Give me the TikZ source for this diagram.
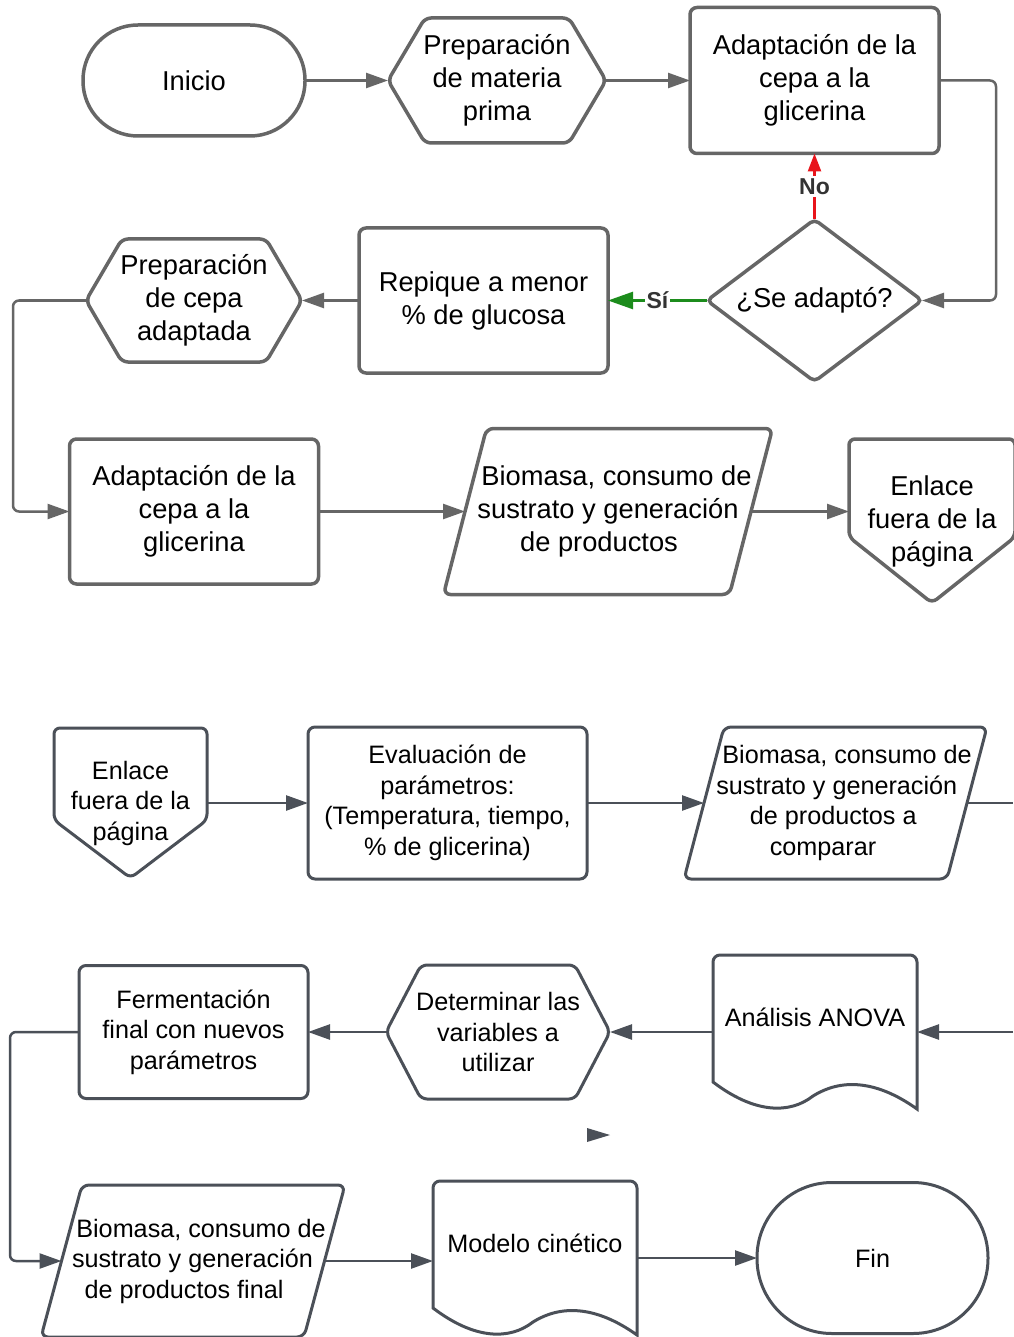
\documentclass[tikz,border=0pt]{standalone}
\usepackage{fontspec}
\setmainfont{Liberation Sans}
\usepackage{xcolor}
\usepackage{tikz}
\usetikzlibrary{arrows.meta,positioning,shapes.geometric}

\definecolor{lineA}{HTML}{666666}
\definecolor{lineB}{HTML}{4B5058}
\definecolor{noRed}{HTML}{E8141B}
\definecolor{siGreen}{HTML}{1C8C1C}
\definecolor{tagGray}{HTML}{333333}

\newcommand{\bigtext}{\fontsize{27.3}{33}\selectfont}
\newcommand{\smalltext}{\fontsize{25.2}{30.5}\selectfont}
% moves one line of a slanted box sideways without changing its width
\newcommand{\slantline}[2]{\hspace*{#1}#2\hspace*{-#1}}

% outlines for the flowchart shapes tikz has no node shape for
\newcommand{\hexoutline}[3]{\draw[#3] (#1.west) -- ([xshift=#2]#1.north west) -- ([xshift=-#2]#1.north east) -- (#1.east) -- ([xshift=-#2]#1.south east) -- ([xshift=#2]#1.south west) -- cycle;}
\newcommand{\paraoutline}[3]{\draw[#3] ([xshift=-#2]#1.south west) -- ([xshift=#2]#1.north west) -- ([xshift=#2]#1.north east) -- ([xshift=-#2]#1.south east) -- cycle;}
\newcommand{\pageoutline}[3]{\draw[#3] (#1.north west) -- (#1.north east) -- ([yshift=#2]#1.south east) -- (#1.south) -- ([yshift=#2]#1.south west) -- cycle;}
\newcommand{\docoutline}[2]{\draw[#2] ([yshift=27pt]#1.south west) -- (#1.north west) -- (#1.north east) [sharp corners] -- (#1.south east)
  .. controls ([xshift=-42pt,yshift=30pt]#1.south east) and ([xshift=25pt,yshift=30pt]#1.south) .. ([xshift=-2pt,yshift=13pt]#1.south)
  .. controls ([xshift=-25pt,yshift=-5pt]#1.south) and ([xshift=42pt,yshift=-5pt]#1.south west) .. ([yshift=27pt]#1.south west) -- cycle;}

\begin{document}
\begin{tikzpicture}[
    x=1pt, y=-1pt,
    every node/.style={align=center, inner sep=0pt, outer sep=0pt},
    textA/.style={font=\bigtext},
    textB/.style={font=\smalltext},
    outA/.style={draw=lineA, line width=3.5pt},
    outB/.style={draw=lineB, line width=3pt},
    process/.style={rectangle, rounded corners=7pt},
    terminal/.style={rectangle, rounded corners=#1},
    decision/.style={diamond, aspect=1.33, rounded corners=5pt},
    holder/.style={rectangle},
    doctext/.style={text height=18pt, text depth=30pt},
    tag/.style={fill=white, text=tagGray, font=\bfseries\fontsize{23}{26}\selectfont, inner sep=2pt},
    arrA/.style={-{Triangle[length=22pt,width=15pt]}, lineA, line width=2.5pt},
    arrB/.style={-{Triangle[length=22pt,width=15pt]}, lineB, line width=2.5pt},
    arrNo/.style={-{Triangle[length=18pt,width=13pt]}, noRed, line width=2.5pt},
    arrSi/.style={-{Triangle[length=25pt,width=17pt]}, siGreen, line width=2.5pt}
]
\useasboundingbox (0,0) rectangle (1013,1337);

% first part
\node[terminal=55pt, outA, textA, minimum width=222pt, minimum height=111pt] (inicio) at (194,80.5) {Inicio};
\node[holder, textA, minimum width=218pt, minimum height=125pt, right=83pt of inicio] (materia) {Preparación\\de materia\\prima};
\node[process, outA, textA, minimum width=249pt, minimum height=146pt, right=84pt of materia] (adaptacion) {Adaptación de la\\cepa a la\\glicerina};
\node[decision, outA, textA, minimum width=215pt, minimum height=162pt, below=66pt of adaptacion] (adapto) {¿Se adaptó?};
\node[process, outA, textA, minimum width=249pt, minimum height=145pt, left=99pt of adapto] (repique) {Repique a menor\\\% de glucosa};
\node[holder, textA, minimum width=216pt, minimum height=123pt, left=57pt of repique] (cepa) {Preparación\\de cepa\\adaptada};
\node[process, outA, textA, minimum width=249pt, minimum height=145pt, below=77pt of cepa] (adaptacion2) {Adaptación de la\\cepa a la\\glicerina};
\node[holder, textA, minimum width=286pt, minimum height=166pt, right=146.5pt of adaptacion2] (biomasa) {\slantline{8.5pt}{Biomasa, consumo de}\\sustrato y generación\\\slantline{-9pt}{de productos}};
\node[holder, textA, minimum width=166pt, minimum height=164pt] (enlace) at (932,521) {Enlace\\fuera de la\\página};

\hexoutline{materia}{37pt}{outA, rounded corners=6pt}
\hexoutline{cepa}{36pt}{outA, rounded corners=6pt}
\paraoutline{biomasa}{21.5pt}{outA, rounded corners=7pt}
\pageoutline{enlace}{66pt}{outA, rounded corners=6pt}

\draw[arrA] (inicio) -- (materia);
\draw[arrA] (materia) -- (adaptacion);
\draw[arrA, rounded corners=6pt] (adaptacion.east) -- ++(57pt,0) |- (adapto.east);
\draw[arrNo] (adapto) -- node[tag]{No} (adaptacion);
\draw[arrSi] (adapto) -- node[tag]{Sí} (repique);
\draw[arrA] (repique) -- (cepa);
\draw[arrA, rounded corners=6pt] (cepa.west) -- ++(-73pt,0) |- (adaptacion2.west);
\draw[arrA] (adaptacion2) -- (biomasa);
\draw[arrA] (biomasa.east) -- (biomasa.east -| enlace.west);

% second part
\node[holder, textB, minimum width=153pt, minimum height=150pt] (enlace2) at (130.5,803) {Enlace\\fuera de la\\página};
\node[process, outB, textB, minimum width=279pt, minimum height=152pt, right=101pt of enlace2] (evaluacion) {Evaluación de\\parámetros:\\(Temperatura, tiempo,\\\% de glicerina)};
\node[holder, textB, minimum width=263pt, minimum height=152pt, right=117pt of evaluacion] (comparar) {\slantline{11.5pt}{Biomasa, consumo de}\\\slantline{2.5pt}{sustrato y generación}\\\slantline{-4.5pt}{de productos a}\\\slantline{-12.5pt}{comparar}};
\coordinate (salida) at (1013,803);
\node[holder, textB, doctext, minimum width=204pt, minimum height=154pt] (anova) at (815,1032) {Análisis ANOVA};
\coordinate (entrada) at (1013,1032);
\node[holder, textB, minimum width=224pt, minimum height=134pt, left=103pt of anova] (variables) {Determinar las\\variables a\\utilizar};
\node[process, outB, textB, minimum width=229pt, minimum height=133pt, left=78pt of variables] (fermentacion) {Fermentación\\final con nuevos\\parámetros};
\node[holder, textB, minimum width=263pt, minimum height=152pt] (final) at (193,1261) {\slantline{8pt}{Biomasa, consumo de}\\\slantline{-1pt}{sustrato y generación}\\\slantline{-9pt}{de productos final}};
\node[holder, textB, doctext, minimum width=204pt, minimum height=154pt] (modelo) at (535,1258) {Modelo cinético};
\node[terminal=75pt, outB, textB, minimum width=231pt, minimum height=151pt, right=120pt of modelo] (fin) {Fin};

\pageoutline{enlace2}{58pt}{outB, rounded corners=6pt}
\paraoutline{comparar}{20pt}{outB, rounded corners=7pt}
\docoutline{anova}{outB, rounded corners=7pt}
\hexoutline{variables}{35pt}{outB, rounded corners=6pt}
\paraoutline{final}{20.5pt}{outB, rounded corners=7pt}
\docoutline{modelo}{outB, rounded corners=7pt}

\draw[arrB] (enlace2) -- (evaluacion);
\draw[arrB] (evaluacion) -- (comparar);
\draw[lineB, line width=2.5pt] (comparar) -- (salida);
\draw[arrB] (entrada) -- (anova);
\draw[arrB] (anova) -- (variables);
\draw[arrB] (variables) -- (fermentacion);
\draw[arrB, rounded corners=6pt] (fermentacion.west) -- ++(-69pt,0) |- (final.west);
\draw[arrB] (final.east) -- (final.east -| modelo.west);
\draw[arrB] (modelo) -- (fin);
\fill[lineB] (587,1128) -- (610,1135) -- (587,1142) -- cycle;

\end{tikzpicture}
\end{document}
